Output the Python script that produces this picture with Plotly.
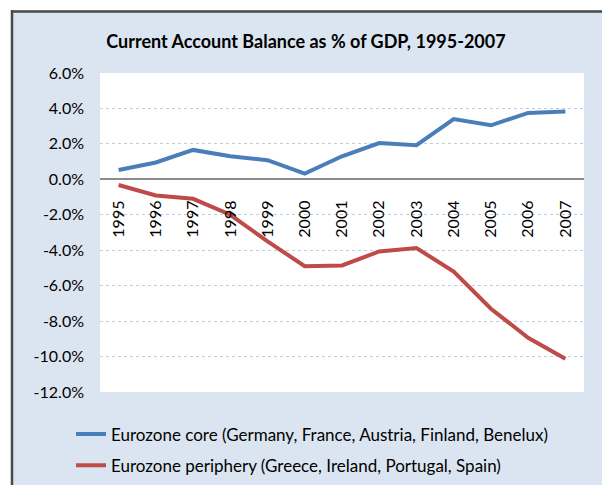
"""Current account balance chart (Eurozone core vs periphery)."""

import plotly.graph_objects as go

YEARS = ["1995", "1996", "1997", "1998", "1999", "2000", "2001",
         "2002", "2003", "2004", "2005", "2006", "2007"]
CORE = [0.53, 0.95, 1.66, 1.3, 1.08, 0.32, 1.3, 2.05, 1.93, 3.4, 3.05, 3.75, 3.83]
PERIPHERY = [-0.32, -0.91, -1.1, -2.0, -3.5, -4.9, -4.86, -4.07, -3.88, -5.2,
             -7.3, -8.94, -10.12]

Y_TICKS = [-12, -10, -8, -6, -4, -2, 0, 2, 4, 6]
Y_LABELS = ["-12.0%", "-10.0%", "-8.0%", "-6.0%", "-4.0%", "-2.0%",
            "0.0%", "2.0%", "4.0%", "6.0%"]

NAME_CORE = "Eurozone core (Germany, France, Austria, Finland, Benelux)"
NAME_PERI = "Eurozone periphery (Greece, Ireland, Portugal, Spain)"

FONT = "Lato, 'Open Sans', sans-serif"
BG = "#dbe5f1"

# figure 602x485; plot area in pixels: x 100..584, y 73..392
# bottom margin is 0 and the y domain starts above the legend, so the
# legend sits inside the paper area and doesn't push the margins
W, H = 602, 485
L, R, T, B = 100, 18, 73, 0
PLOT_BOTTOM = 392
PW, PH = W - L - R, H - T - B
Y_DOM0 = (H - B - PLOT_BOTTOM) / PH


def px(x):
    return (x - L) / PW


def py(y):
    return (H - B - y) / PH


fig = go.Figure()
fig.add_trace(go.Scatter(
    x=YEARS, y=CORE, name=NAME_CORE, mode="lines", legendgroup="a",
    line=dict(color="#4a7ebb", width=4),
))
fig.add_trace(go.Scatter(
    x=YEARS, y=PERIPHERY, name=NAME_PERI, mode="lines", legendgroup="b",
    line=dict(color="#be4b48", width=4),
))

shapes = [
    # white margin above and to the left of the chart frame
    dict(type="rect", xref="paper", yref="paper", x0=-1, x1=2, y0=py(10), y1=2,
         fillcolor="white", line_width=0, layer="above"),
    dict(type="rect", xref="paper", yref="paper", x0=-1, x1=px(11), y0=-1, y1=2,
         fillcolor="white", line_width=0, layer="above"),
    # dark frame edges
    dict(type="line", xref="paper", yref="paper", x0=px(11), x1=1.5,
         y0=py(11.5), y1=py(11.5), line=dict(color="#4a4a4a", width=2.5), layer="above"),
    dict(type="line", xref="paper", yref="paper", x0=px(12), x1=px(12),
         y0=-1, y1=py(10), line=dict(color="#4a4a4a", width=2.5), layer="above"),
]

fig.update_layout(
    width=W, height=H,
    margin=dict(l=L, r=R, t=T, b=B),
    paper_bgcolor=BG,
    plot_bgcolor="white",
    font=dict(family=FONT, size=16, color="black"),
    title=dict(
        text="<b>Current Account Balance as % of GDP, 1995-2007</b>",
        x=306 / W, xref="container", xanchor="center",
        y=1 - 42 / H, yref="container", yanchor="middle",
        font=dict(size=18, family=FONT),
    ),
    xaxis=dict(
        type="category", range=[-0.5, 12.5], automargin=False,
        anchor="free", position=Y_DOM0 + (1 - Y_DOM0) * 12 / 18,
        showgrid=False, showline=False, zeroline=False,
        tickangle=-90, ticks="", ticklabelstandoff=17,
        tickfont=dict(size=16),
    ),
    yaxis=dict(
        domain=[Y_DOM0, 1], automargin=False,
        range=[-12, 6], tickvals=Y_TICKS, ticktext=Y_LABELS,
        showgrid=True, gridcolor="#b9cde5", griddash="dot", gridwidth=1,
        zeroline=True, zerolinecolor="#8c8c8c", zerolinewidth=1.5,
        ticks="", ticklabelstandoff=15,
        tickfont=dict(size=16),
    ),
    legend=dict(
        x=px(71), y=py(450), xanchor="left", yanchor="middle",
        bgcolor="rgba(0,0,0,0)", traceorder="grouped", tracegroupgap=6,
        font=dict(size=17, family=FONT),
    ),
    shapes=shapes,
)

fig.write_html("out.html", config={"displayModeBar": False},
               post_script="document.body.style.margin='0';")
